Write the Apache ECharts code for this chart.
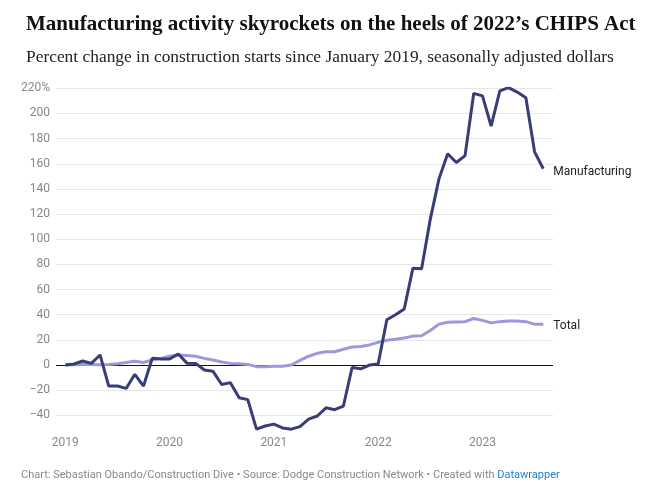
<!DOCTYPE html>
<html>
<head>
<meta charset="utf-8">
<style>
  html, body { margin: 0; padding: 0; background: #fff; }
  #chart { width: 655px; height: 487px; }
</style>
<script src="https://cdn.jsdelivr.net/npm/echarts@6/dist/echarts.min.js"></script>
</head>
<body>
<div id="chart"></div>
<script>
// Months from Jan 2019 to Aug 2023 (index 0..55)
const months = [];
for (let y = 2019; y <= 2023; y++) {
  for (let m = 1; m <= 12; m++) {
    if (y === 2023 && m > 8) break;
    months.push(y + '-' + String(m).padStart(2, '0'));
  }
}

const manufacturing = [
  0, 0.8, 3.2, 1.3, 8, -16.7, -16.7, -18.6, -7.4, -16.7, 5.3, 4.8,
  4.8, 8.8, 1.5, 1.3, -4, -5, -15.5, -14, -26, -27.5, -51, -48.5,
  -47, -50, -51, -49, -43, -40.5, -34, -35.5, -32.6, -2, -3, 0,
  0.8, 36, 40, 44.5, 77, 76.5, 116, 148, 168, 161, 166.5, 216,
  214, 190, 218, 220.5, 217, 212.5, 169.5, 156
];

const total = [
  0, 0.3, 0.6, 0.5, 0.3, 0.5, 1, 2, 3, 2, 4, 5.3,
  7, 8, 7.5, 7, 5.3, 4, 2.4, 1.3, 1, 0.5, -1.3, -1.3,
  -1, -1, 0, 3.7, 7, 9.3, 10.6, 10.6, 12.5, 14.3, 14.8, 16,
  18, 19.7, 20.5, 21.5, 23, 23.3, 27.5, 32.5, 34, 34.3, 34.5, 37,
  35.5, 33.5, 34.5, 35, 35, 34.5, 32.5, 32.5
];

const yearLabels = ['2019', '2020', '2021', '2022', '2023'];
const yearTickIndex = [0, 12, 24, 36, 48];
const yTicks = [-40, -20, 0, 20, 40, 60, 80, 100, 120, 140, 160, 180, 200, 220];

const seriesNames = ['Manufacturing', 'Total'];
const titleText = 'Manufacturing activity skyrockets on the heels of 2022\u2019s CHIPS Act';
const subtitleText = 'Percent change in construction starts since January 2019, seasonally adjusted dollars';
const footerText = 'Chart: Sebastian Obando/Construction Dive \u2022 Source: Dodge Construction Network \u2022 Created with ';
const footerLink = 'Datawrapper';

const toPairs = arr => arr.map((v, i) => [i, v]);

// split line colours: -60 hidden, 0 black, rest light grey
const splitColors = [-60].concat(yTicks).map(v => v === -60 ? 'rgba(0,0,0,0)' : (v === 0 ? '#111' : '#e6e6e6'));

const chart = echarts.init(document.getElementById('chart'), null, { renderer: 'canvas' });
chart.setOption({
  animation: false,
  backgroundColor: '#fff',
  title: [
    {
      text: titleText,
      left: 21, top: 9,
      textStyle: { fontFamily: 'Liberation Serif', fontWeight: 'bold', fontSize: 21, color: '#111' }
    },
    {
      text: subtitleText,
      left: 21, top: 44,
      textStyle: { fontFamily: 'Liberation Serif', fontWeight: 'normal', fontSize: 17.4, color: '#222' }
    }
  ],
  graphic: [
    {
      type: 'text',
      left: 21, top: 470,
      style: {
        rich: {
          a: { fontFamily: 'Roboto', fontSize: 11, fill: '#888' },
          b: { fontFamily: 'Roboto', fontSize: 11, fill: '#1d7fd1' }
        },
        text: '{a|' + footerText + '}{b|' + footerLink + '}'
      }
    }
  ],
  grid: { left: 56, right: 102, top: 88.3, height: 352.2, containLabel: false },
  xAxis: {
    type: 'value',
    min: -1.07, max: 56.12,
    axisLine: { show: false },
    axisTick: { show: false },
    splitLine: { show: false },
    axisLabel: {
      customValues: yearTickIndex,
      formatter: v => yearLabels[yearTickIndex.indexOf(v)] || '',
      fontFamily: 'Roboto', fontSize: 12, color: '#888',
      margin: -4
    }
  },
  yAxis: {
    type: 'value',
    min: -60, max: 220, interval: 20,
    axisLine: { show: false },
    axisTick: { show: false },
    splitLine: { show: true, lineStyle: { color: splitColors, width: 1 } },
    axisLabel: {
      fontFamily: 'Roboto', fontSize: 12, color: '#888', margin: 6,
      formatter: v => v === -60 ? '' : (v === 220 ? '220%' : (v < 0 ? '\u2212' + Math.abs(v) : String(v)))
    }
  },
  series: [
    {
      name: seriesNames[1],
      type: 'line',
      data: toPairs(total),
      symbol: 'none',
      lineStyle: { color: '#9b98dc', width: 3 },
      z: 2,
      endLabel: {
        show: true, formatter: seriesNames[1], distance: 10, offset: [0, 2],
        fontFamily: 'Roboto', fontSize: 12, color: '#222'
      }
    },
    {
      name: seriesNames[0],
      type: 'line',
      data: toPairs(manufacturing),
      symbol: 'none',
      lineStyle: { color: '#3a3c77', width: 3 },
      z: 3,
      endLabel: {
        show: true, formatter: seriesNames[0], distance: 10, offset: [0, 3],
        fontFamily: 'Roboto', fontSize: 12, color: '#222'
      }
    }
  ]
});
</script>
</body>
</html>
